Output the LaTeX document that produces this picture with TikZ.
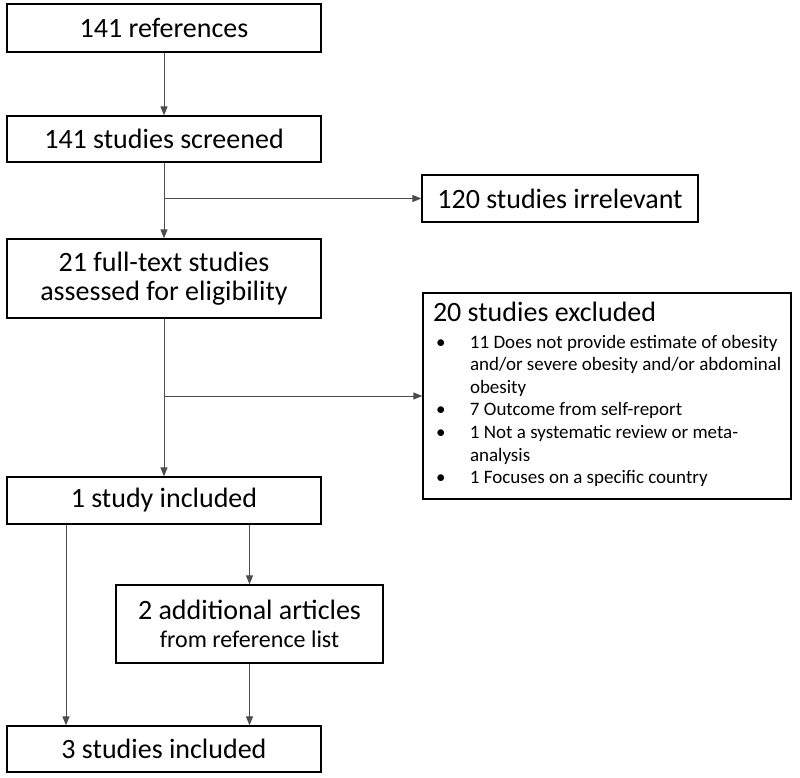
\documentclass[tikz,border=0pt]{standalone}
\usepackage{fontspec}
\setmainfont{Carlito}
\usetikzlibrary{arrows.meta,positioning}

\begin{document}
\begin{tikzpicture}[x=1pt, y=-1pt,
  box/.style = {draw, line width=1.3pt, align=center, inner sep=0pt,
    font=\fontsize{28}{28.5}\selectfont},
  arr/.style = {draw=black!70, line width=1pt, -{Triangle[length=9pt,width=7pt]}}]
\useasboundingbox (0,0) rectangle (800,778);
\node[box, minimum width=314pt, minimum height=48pt] (refs) at (164,28) {141 references};
\node[box, minimum width=314pt, minimum height=46pt] (screened) at (164,139) {141 studies screened};
\node[box, minimum width=276pt, minimum height=47pt] (irrel) at (560,198.5) {120 studies irrelevant};
\node[box, minimum width=314pt, minimum height=79pt] (fulltext) at (164,278.5) {21 full-text studies\\assessed for eligibility};
\node[box, minimum width=368pt, minimum height=206pt, text width=348pt, align=flush left,
  font=\fontsize{28}{27}\selectfont] (excl) at (607,396) {20 studies excluded\\
  {\fontsize{19}{22.6}\selectfont\begin{tabular}[t]{@{}p{37pt}@{}l@{}}
  \hspace{3pt}\textbullet & 11 Does not provide estimate of obesity\\
   & and/or severe obesity and/or abdominal\\
   & obesity\\
  \hspace{3pt}\textbullet & 7 Outcome from self-report\\
  \hspace{3pt}\textbullet & 1 Not a systematic review or meta-\\
   & analysis\\
  \hspace{3pt}\textbullet & 1 Focuses on a specific country
  \end{tabular}}};
\node[box, minimum width=314pt, minimum height=47pt] (incl) at (164,500.5) {1 study included};
\node[box, minimum width=267pt, minimum height=78pt] (addl) at (249.5,624) {2 additional articles\\\fontsize{24}{32}\selectfont from reference list};
\node[box, minimum width=314pt, minimum height=46pt] (final) at (164,749) {3 studies included};

\draw[arr] (refs) -- (screened);
\draw[arr] (screened) -- (fulltext);
\draw[arr] (screened |- irrel) -- (irrel);
\draw[arr] (fulltext) -- (incl);
\draw[arr] (fulltext |- excl) -- (excl);
\draw[arr] (incl.south -| addl) -- (addl);
\draw[arr] (addl) -- (final.north -| addl);
\draw[arr] ([xshift=-98pt]incl.south) -- ([xshift=-98pt]final.north);
\end{tikzpicture}
\end{document}
